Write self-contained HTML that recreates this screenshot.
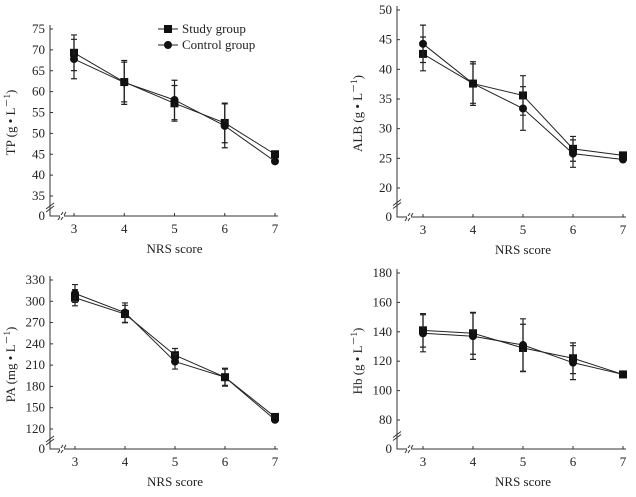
<!DOCTYPE html>
<html><head><meta charset="utf-8"><style>
body{margin:0;background:#fff;}
svg, svg text, svg tspan{font-family:"Liberation Serif","Times New Roman",serif !important;}
svg text{fill:#222;}
</style></head><body>
<svg id="c" width="636" height="492" viewBox="0 0 636 492" xmlns="http://www.w3.org/2000/svg" font-family="Liberation Serif, serif"></svg>
<script>
const categories=[3,4,5,6,7];
const tpStudy=[69.3,62.3,57.2,52.5,45.0];
const tpControl=[67.8,62.2,58.0,51.8,43.3];
const tpErr=[4.5,5.0,4.5,5.0,0];
const tpTicks=[35,40,45,50,55,60,65,70,75];
const albStudy=[42.6,37.6,35.6,26.6,25.5];
const albControl=[44.3,37.6,33.4,25.8,24.8];
const albErr=[3.0,3.5,3.5,2.2,0];
const albTicks=[20,25,30,35,40,45,50];
const paStudy=[305,282,224,193,137];
const paControl=[311,284,215,193,133];
const paErr=[12,13,10,12,0];
const paTicks=[120,150,180,210,240,270,300,330];
const hbStudy=[141,139,129,122,111];
const hbControl=[139,137,131,119,111];
const hbErr=[12,15,17,11,0];
const hbTicks=[80,100,120,140,160,180];

const NS="http://www.w3.org/2000/svg";
const svg=document.getElementById('c');
const FF='Liberation Serif, Times New Roman, serif';
function mk(tag,attrs,parent){const e=document.createElementNS(NS,tag);for(const k in attrs)e.setAttribute(k,attrs[k]);if(tag==='text')e.setAttribute('font-family',FF);(parent||svg).appendChild(e);return e;}

function panel(o){
  const g=mk('g',{});
  
  
  const t0=o.ticks[0],t1=o.ticks[o.ticks.length-1];
  const y=v=>o.yLow+(v-t0)*(o.yTop-o.yLow)/(t1-t0);
  const x=c=>o.x3+(c-3)*(o.x7-o.x3)/4;
  const ax=mk('path',{d:`M${o.ax},${o.yTop-4}V${o.yZero}H${o.x7+3}`,stroke:'#333',fill:'none','stroke-width':1},g);
  
  
  const yb=(o.yLow+o.yZero)/2+2;
  mk('path',{d:`M${o.ax-4},${yb+1}L${o.ax+4},${yb-5}M${o.ax-4},${yb+4}L${o.ax+4},${yb-2}`,stroke:'#333',fill:'none'},g);
  mk('path',{d:`M${o.ax+8},${o.yZero+4}L${o.ax+13},${o.yZero-4}M${o.ax+11},${o.yZero+4}L${o.ax+16},${o.yZero-4}`,stroke:'#333',fill:'none'},g);
  mk('rect',{x:o.ax+10,y:o.yZero-1,width:4,height:2,fill:'#fff'},g);
  const tks=o.ticks.concat([0]);
  tks.forEach(v=>{
    const yy=v===0?o.yZero:y(v);
    mk('line',{x1:o.ax,x2:o.ax+3,y1:yy,y2:yy,stroke:'#333'},g);
    const t=mk('text',{x:o.ax-5,y:yy+4,'text-anchor':'end','font-size':13},g);
    t.textContent=v;
    
    
  });
  categories.forEach(c=>{
    mk('line',{x1:x(c),x2:x(c),y1:o.yZero,y2:o.yZero-3,stroke:'#333'},g);
    const t=mk('text',{x:x(c),y:o.yZero+17,'text-anchor':'middle','font-size':13},g);
    t.textContent=c;
    
    
  });
  const xt=mk('text',{x:(o.x3+o.x7)/2,y:o.yZero+37,'text-anchor':'middle','font-size':13},g);
  xt.textContent='NRS score';
  
  
  const ym=(o.yTop+o.yZero)/2;
  const yt=mk('text',{x:o.ax-35,y:ym,'text-anchor':'middle','font-size':13,transform:`rotate(-90 ${o.ax-35} ${ym})`},g);
  yt.innerHTML=o.label+' ('+(o.unit||'g')+' • L<tspan dy="-5" font-size="9">－1</tspan><tspan dy="5">)</tspan>';
  
  
  [[o.study,'sq'],[o.control,'ci']].forEach(([vals,shape],si)=>{
    const err=o.err;
    vals.forEach((v,i)=>{
      const e=err[i]*(si?1.05:0.95);
      if(e>0){
        const cx=x(categories[i]);
        mk('path',{d:`M${cx},${y(v+e)}V${y(v-e)}M${cx-3},${y(v+e)}H${cx+3}M${cx-3},${y(v-e)}H${cx+3}`,stroke:'#222','stroke-width':1.2,fill:'none'},g);
      }
    });
    const pl=mk('polyline',{points:vals.map((v,i)=>x(categories[i])+','+y(v)).join(' '),fill:'none',stroke:'#222','stroke-width':1},g);
    
    
    vals.forEach((v,i)=>{
      let m;
      if(shape==='sq') m=mk('rect',{x:x(categories[i])-4,y:y(v)-4,width:8,height:8,fill:'#111'},g);
      else m=mk('circle',{cx:x(categories[i]),cy:y(v),r:4,fill:'#111'},g);
      
      
    });
  });
}
panel({name:'tp',label:'TP',study:tpStudy,control:tpControl,err:tpErr,ticks:tpTicks,ax:50,x3:74,x7:275,yTop:29,yLow:196,yZero:216});
panel({name:'alb',label:'ALB',study:albStudy,control:albControl,err:albErr,ticks:albTicks,ax:397,x3:423,x7:623,yTop:10,yLow:188,yZero:217});
panel({name:'pa',label:'PA',unit:'mg',study:paStudy,control:paControl,err:paErr,ticks:paTicks,ax:50,x3:75,x7:275,yTop:280,yLow:429,yZero:449});
panel({name:'hb',label:'Hb',study:hbStudy,control:hbControl,err:hbErr,ticks:hbTicks,ax:397,x3:423,x7:623,yTop:273,yLow:420,yZero:449});
const lg=mk('g',{});


[['Study group','sq',29],['Control group','ci',45]].forEach(([lab,sh,yy])=>{
  const e=mk('g',{},lg);
  
  
  mk('line',{x1:158,x2:178,y1:yy,y2:yy,stroke:'#222'},e);
  if(sh==='sq') mk('rect',{x:164,y:yy-4,width:8,height:8,fill:'#111'},e);
  else mk('circle',{cx:168,cy:yy,r:4,fill:'#111'},e);
  const t=mk('text',{x:182,y:yy+4,'font-size':13},e);
  t.textContent=lab;
});
</script>
</body></html>
